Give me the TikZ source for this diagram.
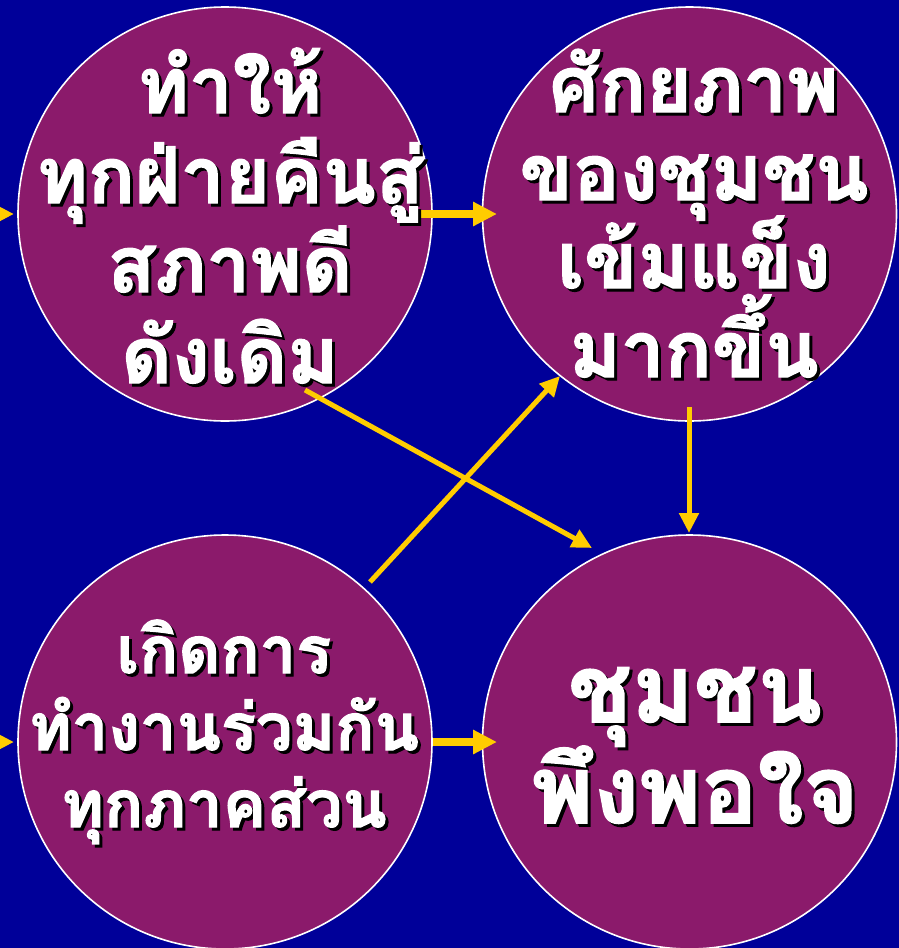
\documentclass[tikz,border=0pt]{standalone}
\usepackage{fontspec}
\newfontfamily\thaifont[Script=Thai,BoldFeatures={FakeBold=1.8}]{Loma}
\usetikzlibrary{arrows.meta}
\definecolor{bgblue}{HTML}{000099}
\definecolor{plum}{HTML}{8B1A6B}
\definecolor{gold}{HTML}{FFCC00}
\tikzset{
  circ/.style={circle, draw=white, line width=1.6pt, fill=plum, minimum size=414pt, inner sep=0pt},
  bigarr/.style={draw=gold, line width=8pt, -{Triangle[length=24pt,width=23pt]}, fill=gold},
  thinarr/.style={draw=gold, line width=5pt, -{Triangle[length=20pt,width=19pt]}, fill=gold},
  lbl/.style={anchor=base, inner sep=0pt, text=white},
}
\newcommand\Shadowed[1]{\makebox[0pt][l]{\hspace*{3pt}\raisebox{-3pt}{\color{black}#1}}#1}
\newcommand\ThaiLine[5]{%
  \node[lbl, font=\thaifont\bfseries\fontsize{#4}{#4}\selectfont] (#1) at (#2,#3) {\Shadowed{#5}};
}
\begin{document}
\begin{tikzpicture}[x=1pt,y=-1pt]
\useasboundingbox (0,0) rectangle (899,948);
\fill[bgblue] (0,0) rectangle (899,948);
\clip (0,0) rectangle (899,948);
% circles
\node[circ] (c1) at (225,214) {};
\node[circ] (c2) at (689.5,214) {};
\node[circ] (c3) at (225,742) {};
\node[circ] (c4) at (689.5,742) {};
% arrow ends
\coordinate (l1a) at (-40,214);
\coordinate (l1b) at (14,214);
\coordinate (l3a) at (-40,742);
\coordinate (l3b) at (14,742);
\coordinate (a12a) at (418,214);
\coordinate (a12b) at (497,214);
\coordinate (a34a) at (433,742);
\coordinate (a34b) at (497,742);
\coordinate (a14a) at (305,390);
\coordinate (a14b) at (592,548);
\coordinate (a32a) at (370,582);
\coordinate (a32b) at (560,376);
\coordinate (a24a) at (689,407);
\coordinate (a24b) at (689,533);
\draw[bigarr] (l1a) -- (l1b);
\draw[bigarr] (l3a) -- (l3b);
\draw[bigarr] (a12a) -- (a12b);
\draw[bigarr] (a34a) -- (a34b);
\draw[thinarr] (a14a) -- (a14b);
\draw[thinarr] (a32a) -- (a32b);
\draw[thinarr] (a24a) -- (a24b);
% texts
\ThaiLine{t11}{230}{113}{78}{ทำให้}
\ThaiLine{t12}{230}{203}{78}{ทุกฝ่ายคืนสู่}
\ThaiLine{t13}{230}{292}{78}{สภาพดี}
\ThaiLine{t14}{230}{383}{78}{ดังเดิม}
\ThaiLine{t21}{694}{112}{78}{ศักยภาพ}
\ThaiLine{t22}{694}{200}{78}{ของชุมชน}
\ThaiLine{t23}{694}{288}{78}{เข้มแข็ง}
\ThaiLine{t24}{694}{377}{78}{มากขึ้น}
\ThaiLine{t31}{224}{673}{65}{เกิดการ}
\ThaiLine{t32}{224}{750}{65}{ทำงานร่วมกัน}
\ThaiLine{t33}{224}{827}{65}{ทุกภาคส่วน}
\ThaiLine{t41}{695}{722}{94}{ชุมชน}
\ThaiLine{t42}{695}{823}{94}{พึงพอใจ}
\end{tikzpicture}
\end{document}
